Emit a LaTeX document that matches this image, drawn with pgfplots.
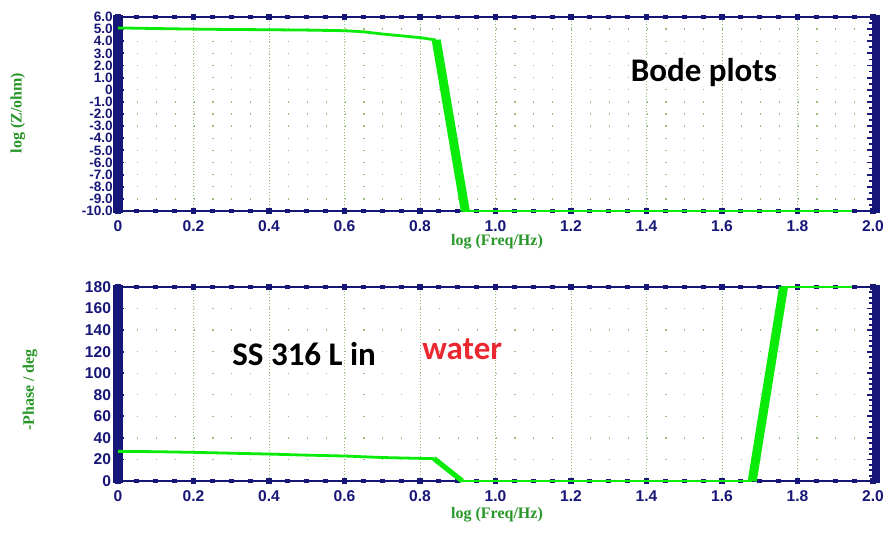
\documentclass[border=0pt]{standalone}
\usepackage{pgfplots}
\pgfplotsset{compat=1.18}
\usepackage{fontspec}
\setmainfont{Liberation Sans}
\newfontfamily\serifb{Liberation Serif}
\newfontfamily\carlito{Carlito}
\definecolor{navy}{RGB}{22,22,120}
\definecolor{labgreen}{RGB}{40,150,40}
\definecolor{linegreen}{RGB}{10,235,10}
\definecolor{gridgreen}{RGB}{150,190,120}
\definecolor{wred}{RGB}{235,40,50}

\pgfplotsset{
  bodestyle/.style={
    scale only axis, width=377.5pt, height=97pt,
    anchor=south west, clip=false,
    xmin=0, xmax=2,
    xtick={0,0.2,0.4,0.6,0.8,1.0,1.2,1.4,1.6,1.8,2.0},
    xticklabels={0,0.2,0.4,0.6,0.8,1.0,1.2,1.4,1.6,1.8,2.0},
    minor x tick num=3,
    xtick align=center, ytick align=inside,
    major tick length=3pt, minor tick length=2pt,
    xtick style={navy, line width=2.6pt},
    ytick style={navy, line width=0.9pt},
    xtick pos=both, ytick pos=both,
    axis line style={navy, line width=1.2pt},
    /pgf/number format/assume math mode=true,
    tick label style={font=\fontsize{7.8}{8}\selectfont\bfseries, text=navy},
    xmajorgrids, ymajorgrids,
    major x grid style={gridgreen, line width=0.5pt, dash pattern=on 0.5pt off 1pt},
    major y grid style={gridgreen, line width=0.7pt, dash pattern=on 0.6pt off 8.8375pt},
    xlabel={log (Freq/Hz)},
    label style={font=\serifb\fontsize{8}{9}\selectfont\bfseries, text=labgreen},
  }
}

\begin{document}
\begin{tikzpicture}
\useasboundingbox (0,0) rectangle (443.5pt,266pt);

% ---------- top: log|Z| ----------
\begin{axis}[bodestyle, at={(59pt,160.5pt)},
  ymin=-10, ymax=6,
  ytick={-10,-9,-8,-7,-6,-5,-4,-3,-2,-1,0,1,2,3,4,5,6},
  yticklabels={-10.0,-9.0,-8.0,-7.0,-6.0,-5.0,-4.0,-3.0,-2.0,-1.0,0,1.0,2.0,3.0,4.0,5.0,6.0},
  yticklabel style={font=\fontsize{6.8}{7}\selectfont\bfseries, inner sep=0.4pt, xshift=-2pt},
  minor y tick num=1,
  ylabel={log (Z/ohm)},
  xlabel style={at={(axis description cs:0.502,-0.16)}, anchor=center},
  ylabel style={at={(axis description cs:-0.1325,0.505)}, anchor=center},
]
\draw[navy, line width=5pt] ([yshift=-1.2pt]rel axis cs:0,0) -- ([yshift=1.2pt]rel axis cs:0,1);
\draw[navy, line width=4pt] ([xshift=1.4pt,yshift=-1.2pt]rel axis cs:1,0) -- ([xshift=1.4pt,yshift=1.2pt]rel axis cs:1,1);
\addplot[linegreen, line width=1.4pt] coordinates {
  (0,5.1) (0.1,5.05) (0.2,5.0) (0.3,4.97) (0.4,4.95) (0.5,4.92) (0.6,4.87)
  (0.65,4.78) (0.7,4.6) (0.75,4.45) (0.8,4.3) (0.843,4.1)};
\addplot[linegreen, line width=4.5pt] coordinates {(0.843,4.1) (0.92,-10)};
\addplot[linegreen, line width=1.4pt] coordinates {(0.915,-10) (1.944,-10)};
\node[anchor=base, font=\carlito\fontsize{16.5}{19}\selectfont\bfseries] at (axis cs:1.552,0.64) {Bode plots};
\end{axis}

% ---------- bottom: phase ----------
\begin{axis}[bodestyle, at={(59pt,25.5pt)},
  ymin=0, ymax=180,
  ytick={0,20,40,60,80,100,120,140,160,180},
  yticklabels={0,20,40,60,80,100,120,140,160,180},
  minor y tick num=3,
  ylabel={-Phase / deg},
  xlabel style={at={(axis description cs:0.502,-0.175)}, anchor=center},
  ylabel style={at={(axis description cs:-0.1166,0.469)}, anchor=center},
]
\draw[navy, line width=5pt] ([yshift=-1.2pt]rel axis cs:0,0) -- ([yshift=1.2pt]rel axis cs:0,1);
\draw[navy, line width=4pt] ([xshift=1.4pt,yshift=-1.2pt]rel axis cs:1,0) -- ([xshift=1.4pt,yshift=1.2pt]rel axis cs:1,1);
\addplot[linegreen, line width=1.4pt] coordinates {
  (0,27.5) (0.1,27.2) (0.2,26.6) (0.3,25.8) (0.4,25) (0.5,24) (0.6,23.2)
  (0.7,21.8) (0.8,21) (0.837,20.8)};
\addplot[linegreen, line width=2.6pt] coordinates {(0.837,20.8) (0.912,0)};
\addplot[linegreen, line width=1.4pt] coordinates {(0.905,0) (1.68,0)};
\addplot[linegreen, line width=4.5pt] coordinates {(1.68,0) (1.763,180)};
\addplot[linegreen, line width=1.4pt] coordinates {(1.76,180) (1.944,180)};
\node[anchor=base, font=\carlito\fontsize{16.5}{19}\selectfont\bfseries] at (axis cs:0.493,107.6) {SS 316 L in};
\node[anchor=base, font=\carlito\fontsize{16.5}{19}\selectfont\bfseries, text=wred] at (axis cs:0.912,112.3) {water};
\end{axis}
\end{tikzpicture}
\end{document}
